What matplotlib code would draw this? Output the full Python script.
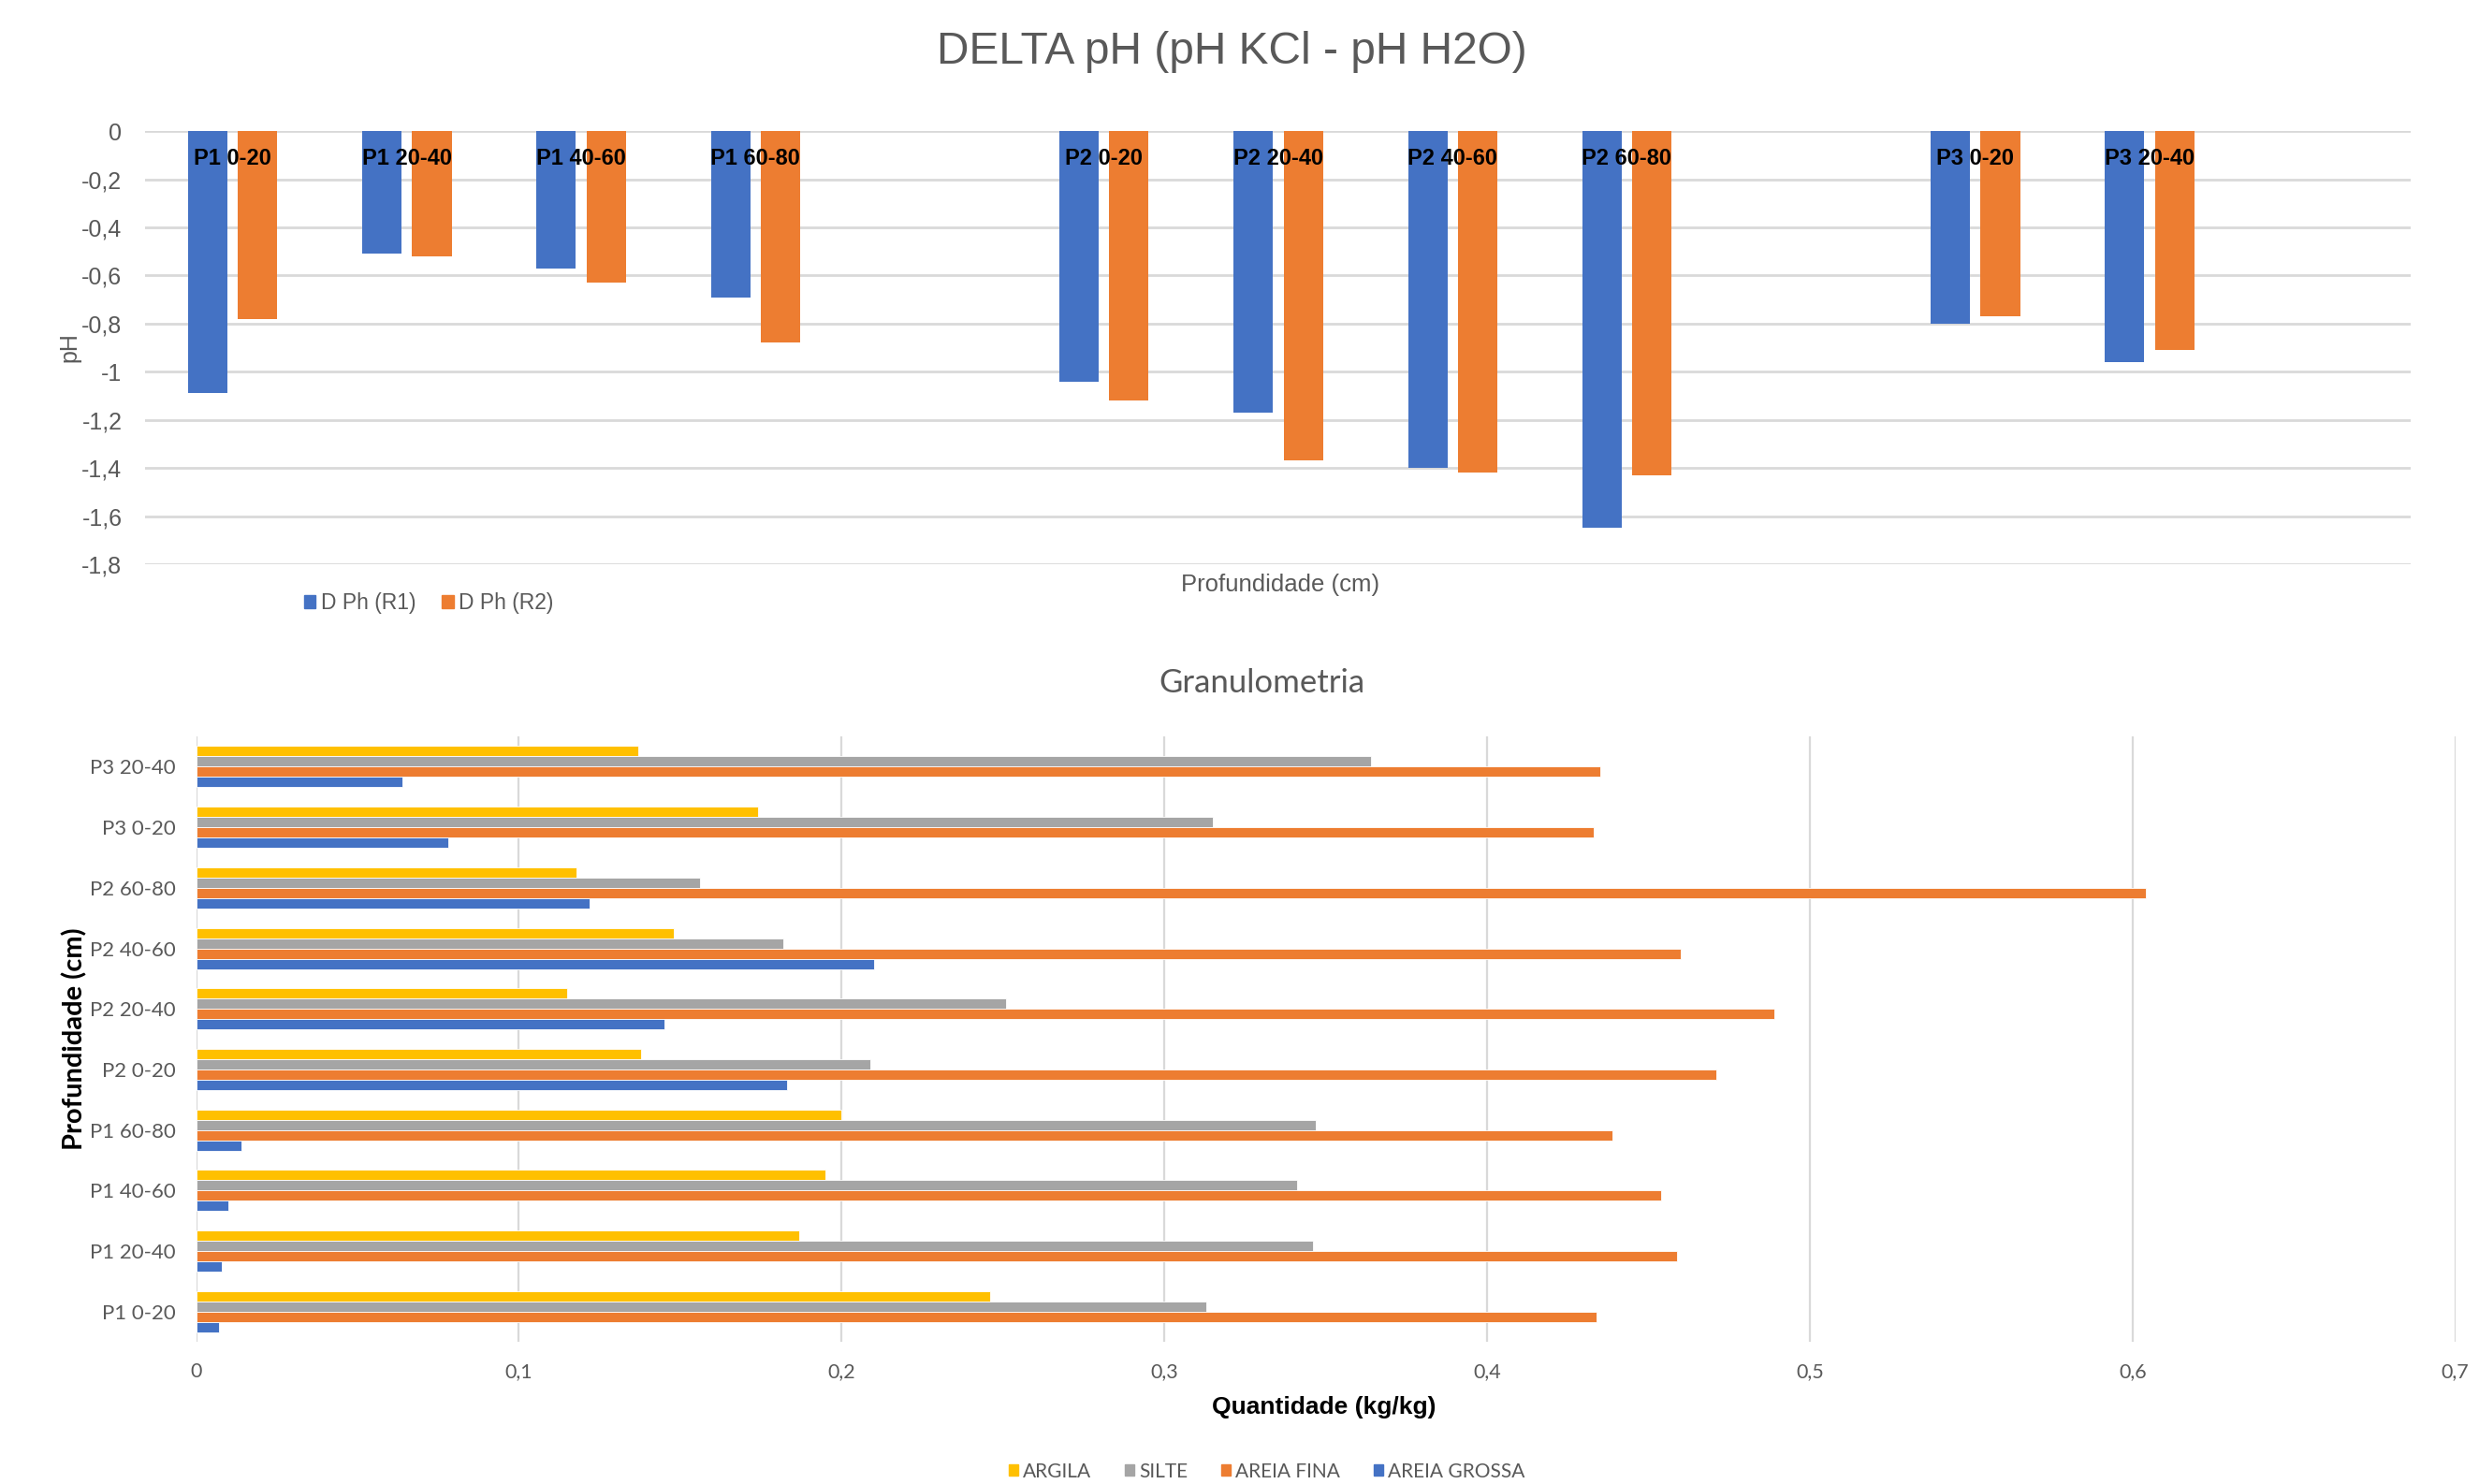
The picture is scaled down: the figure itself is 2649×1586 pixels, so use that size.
import numpy as np
import matplotlib
matplotlib.use("Agg")
import matplotlib.pyplot as plt
from matplotlib.patches import Patch

# delta pH per sample depth (blank slots separate the profiles)
ph_cats = ["P1 0-20", "P1 20-40", "P1 40-60", "P1 60-80", "",
           "P2 0-20", "P2 20-40", "P2 40-60", "P2 60-80", "",
           "P3 0-20", "P3 20-40", ""]
ph_r1 = [-1.09, -0.51, -0.57, -0.69, np.nan,
         -1.04, -1.17, -1.40, -1.65, np.nan,
         -0.80, -0.96, np.nan]
ph_r2 = [-0.78, -0.52, -0.63, -0.88, np.nan,
         -1.12, -1.37, -1.42, -1.43, np.nan,
         -0.77, -0.91, np.nan]
ph_ticks = [0, -0.2, -0.4, -0.6, -0.8, -1.0, -1.2, -1.4, -1.6, -1.8]

# granulometry (kg/kg)
gran_cats = ["P1 0-20", "P1 20-40", "P1 40-60", "P1 60-80", "P2 0-20",
             "P2 20-40", "P2 40-60", "P2 60-80", "P3 0-20", "P3 20-40"]
argila = [0.246, 0.187, 0.195, 0.200, 0.138, 0.115, 0.148, 0.118, 0.174, 0.137]
silte = [0.313, 0.346, 0.341, 0.347, 0.209, 0.251, 0.182, 0.156, 0.315, 0.364]
areia_fina = [0.434, 0.459, 0.454, 0.439, 0.471, 0.489, 0.460, 0.604, 0.433, 0.435]
areia_grossa = [0.007, 0.008, 0.010, 0.014, 0.183, 0.145, 0.210, 0.122, 0.078, 0.064]
gran_ticks = [0, 0.1, 0.2, 0.3, 0.4, 0.5, 0.6, 0.7]

BLUE = "#4472C4"
ORANGE = "#ED7D31"
GRAY = "#A5A5A5"
YELLOW = "#FFC000"
TXT = "#595959"
GRID = "#D9D9D9"


def fmt(v):
    s = ("%g" % round(v, 2)).replace(".", ",")
    return s


fig = plt.figure(figsize=(26.49, 15.86), dpi=100)

# ---- top: delta pH ----
ax = fig.add_axes([0.0587, 0.6198, 0.9139, 0.2918])
x = np.arange(len(ph_cats))
w = 0.226
off = 0.143
ax.bar(x - off, ph_r1, w, color=BLUE, zorder=3)
ax.bar(x + off, ph_r2, w, color=ORANGE, zorder=3)
for xi, name in zip(x, ph_cats):
    if name:
        ax.text(xi, -0.115, name, ha="center", va="center", fontsize=17,
                fontweight="bold", family="Liberation Sans", color="black",
                zorder=4)
ax.set_xlim(-0.5, len(ph_cats) - 0.5)
ax.set_ylim(-1.8, 0)
ax.set_yticks(ph_ticks)
ax.set_yticklabels([fmt(t) for t in ph_ticks], family="Liberation Sans",
                   fontsize=18, color=TXT)
ax.set_xticks([])
ax.tick_params(axis="y", length=0, pad=18)
ax.grid(axis="y", color=GRID, linewidth=2, zorder=0)
for s in ax.spines.values():
    s.set_visible(False)

fig.text(0.497, 0.965, "DELTA pH (pH KCl - pH H2O)", ha="center", va="center",
         fontsize=34.5, color=TXT, family="Liberation Sans")
fig.text(0.028, 0.766, "pH", ha="center", va="center", rotation=90,
         fontsize=18, color=TXT, family="Liberation Sans")
fig.text(0.5166, 0.606, "Profundidade (cm)", ha="center", va="center",
         fontsize=18.5, color=TXT, family="Liberation Sans")
leg = fig.legend(handles=[Patch(color=BLUE, label="D Ph (R1)"),
                          Patch(color=ORANGE, label="D Ph (R2)")],
                 loc="center", bbox_to_anchor=(0.173, 0.5935), ncol=2,
                 frameon=False, handlelength=0.55, handleheight=0.55,
                 handletextpad=0.25, columnspacing=1.2,
                 prop={"family": "Liberation Sans", "size": 16.5})
for t in leg.get_texts():
    t.set_color(TXT)

# ---- bottom: granulometria ----
bx = fig.add_axes([0.0791, 0.0958, 0.9113, 0.4079])
y = np.arange(len(gran_cats))
h = 0.17
bx.barh(y + 1.5 * h, argila, h, color=YELLOW, zorder=3, edgecolor="white", linewidth=0.6)
bx.barh(y + 0.5 * h, silte, h, color=GRAY, zorder=3, edgecolor="white", linewidth=0.6)
bx.barh(y - 0.5 * h, areia_fina, h, color=ORANGE, zorder=3, edgecolor="white", linewidth=0.6)
bx.barh(y - 1.5 * h, areia_grossa, h, color=BLUE, zorder=3, edgecolor="white", linewidth=0.6)
bx.set_xlim(0, 0.7)
bx.set_ylim(-0.5, len(gran_cats) - 0.5)
bx.set_yticks(y)
bx.set_yticklabels(gran_cats, family="Lato", fontsize=16, color=TXT)
bx.set_xticks(gran_ticks)
bx.set_xticklabels([fmt(t) for t in gran_ticks], family="Lato",
                   fontsize=15.5, color=TXT)
bx.tick_params(axis="both", length=0)
bx.tick_params(axis="y", pad=15.5)
bx.tick_params(axis="x", pad=16)
bx.grid(axis="x", color=GRID, linewidth=1.6, zorder=0)
for s in bx.spines.values():
    s.set_visible(False)

fig.text(0.509, 0.540, "Granulometria", ha="center", va="center",
         fontsize=25, color=TXT, family="Lato")
fig.text(0.030, 0.300, "Profundidade (cm)", ha="center", va="center",
         rotation=90, fontsize=21, fontweight="bold", color="black",
         family="Lato")
fig.text(0.534, 0.052, "Quantidade (kg/kg)", ha="center", va="center",
         fontsize=19, fontweight="bold", color="black",
         family="Liberation Sans")
leg2 = fig.legend(handles=[Patch(color=YELLOW, label="ARGILA"),
                           Patch(color=GRAY, label="SILTE"),
                           Patch(color=ORANGE, label="AREIA FINA"),
                           Patch(color=BLUE, label="AREIA GROSSA")],
                  loc="center", bbox_to_anchor=(0.511, 0.0085), ncol=4,
                  frameon=False, handlelength=0.5, handleheight=0.5,
                  handletextpad=0.25, columnspacing=1.7,
                  prop={"family": "Lato", "size": 15})
for t in leg2.get_texts():
    t.set_color(TXT)

fig.savefig("out.png", dpi=100, facecolor="white")
